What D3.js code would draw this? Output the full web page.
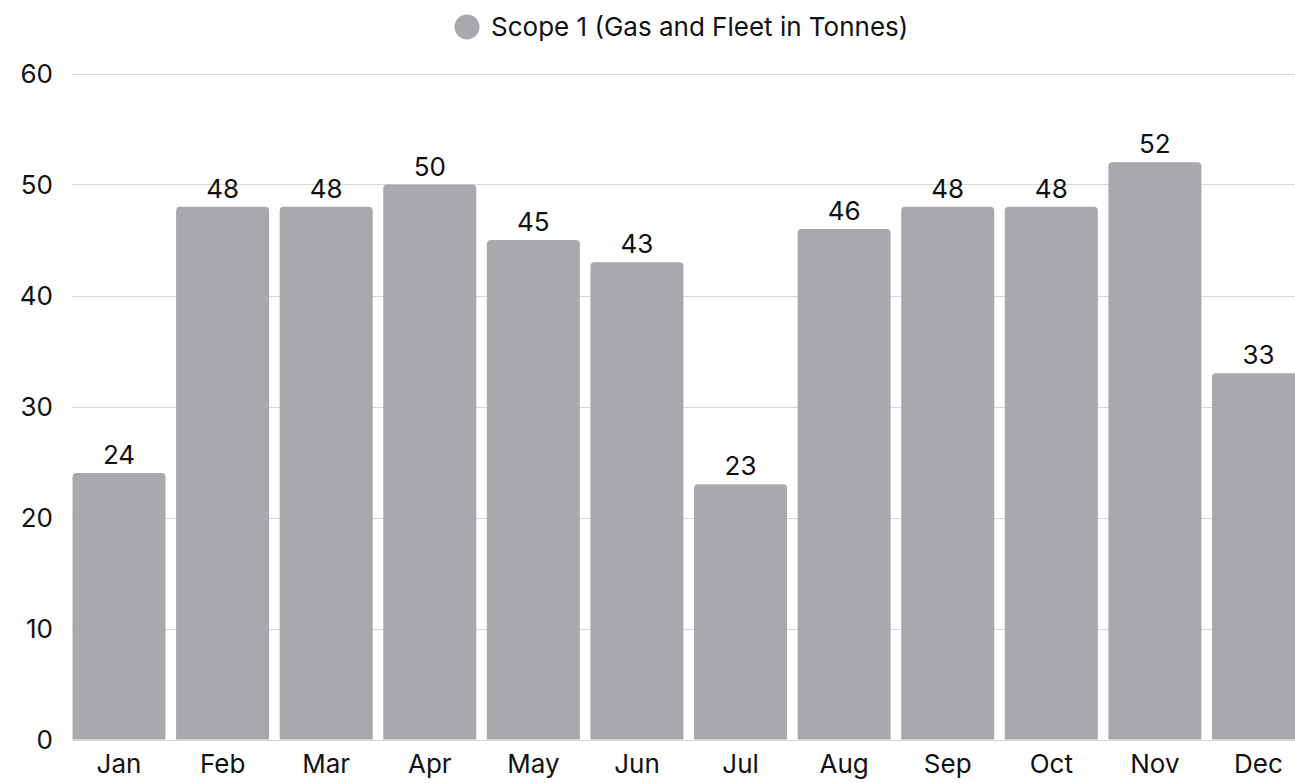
<!DOCTYPE html>
<html>
<head>
<meta charset="utf-8">
<script src="https://cdn.jsdelivr.net/npm/d3@7"></script>
<style>
  body { margin: 0; background: #fff; }
  svg { display: block; font-family: Inter, "Open Sans", sans-serif; }
</style>
</head>
<body>
<div id="chart"></div>
<script>
// Chart data
var months = ["Jan", "Feb", "Mar", "Apr", "May", "Jun", "Jul", "Aug", "Sep", "Oct", "Nov", "Dec"];
var scope1 = [24, 48, 48, 50, 45, 43, 23, 46, 48, 48, 52, 33];
var yTicks = [0, 10, 20, 30, 40, 50, 60];
var seriesName = "Scope 1 (Gas and Fleet in Tonnes)";

var width = 1295, height = 783;
var barColor = "#a8a9ad";
var textColor = "#111";
var fontSize = "26px";

var svg = d3.select("#chart").append("svg")
    .attr("width", width)
    .attr("height", height);

// x band runs a little past the right edge (the last bar is cut off)
var x = d3.scaleBand()
    .domain(months)
    .range([72.5, 1305])
    .paddingInner(0.102)
    .paddingOuter(0);

var y = d3.scaleLinear()
    .domain([0, 60])
    .range([739.5, 73.5]);

// gridlines
svg.append("g")
  .selectAll("line")
  .data(yTicks)
  .enter().append("line")
    .attr("x1", 72)
    .attr("x2", width)
    .attr("y1", function(d) { return Math.round(y(d)) + 0.5; })
    .attr("y2", function(d) { return Math.round(y(d)) + 0.5; })
    .attr("stroke", "#d9d9d9")
    .attr("stroke-width", 1);

// y axis labels
var yAxis = svg.append("g")
    .attr("transform", "translate(53,0)")
    .call(d3.axisLeft(y).tickValues(yTicks).tickSize(0).tickPadding(0));
yAxis.select(".domain").remove();
yAxis.selectAll("text")
    .attr("fill", textColor)
    .attr("dy", "0.36em")
    .style("font-size", fontSize)
    .style("font-family", "Inter, sans-serif");

// bars with rounded top corners
var r = 4;
function barPath(d, i) {
  var x0 = x(months[i]), w = x.bandwidth();
  var y0 = y(d), y1 = y(0);
  return "M" + x0 + "," + y1 +
         "V" + (y0 + r) +
         "Q" + x0 + "," + y0 + " " + (x0 + r) + "," + y0 +
         "H" + (x0 + w - r) +
         "Q" + (x0 + w) + "," + y0 + " " + (x0 + w) + "," + (y0 + r) +
         "V" + y1 + "Z";
}

svg.append("g")
  .selectAll("path")
  .data(scope1)
  .enter().append("path")
    .attr("d", barPath)
    .attr("fill", barColor);

// value labels
svg.append("g")
  .selectAll("text")
  .data(scope1)
  .enter().append("text")
    .attr("x", function(d, i) { return x(months[i]) + x.bandwidth() / 2; })
    .attr("y", function(d) { return y(d) - 9; })
    .attr("text-anchor", "middle")
    .attr("fill", textColor)
    .style("font-size", fontSize)
    .text(function(d) { return d; });

// month labels
var xAxis = svg.append("g")
    .attr("transform", "translate(0,773)")
    .call(d3.axisBottom(x).tickSize(0).tickPadding(0));
xAxis.select(".domain").remove();
xAxis.selectAll("text")
    .attr("fill", textColor)
    .attr("dy", 0)
    .style("font-size", fontSize)
    .style("font-family", "Inter, sans-serif");

// legend
var legend = svg.append("g");
legend.append("circle")
    .attr("cx", 467)
    .attr("cy", 27)
    .attr("r", 12.5)
    .attr("fill", barColor);
legend.append("text")
    .attr("x", 491)
    .attr("y", 35.5)
    .attr("fill", textColor)
    .style("font-size", fontSize)
    .text(seriesName);
</script>
</body>
</html>
